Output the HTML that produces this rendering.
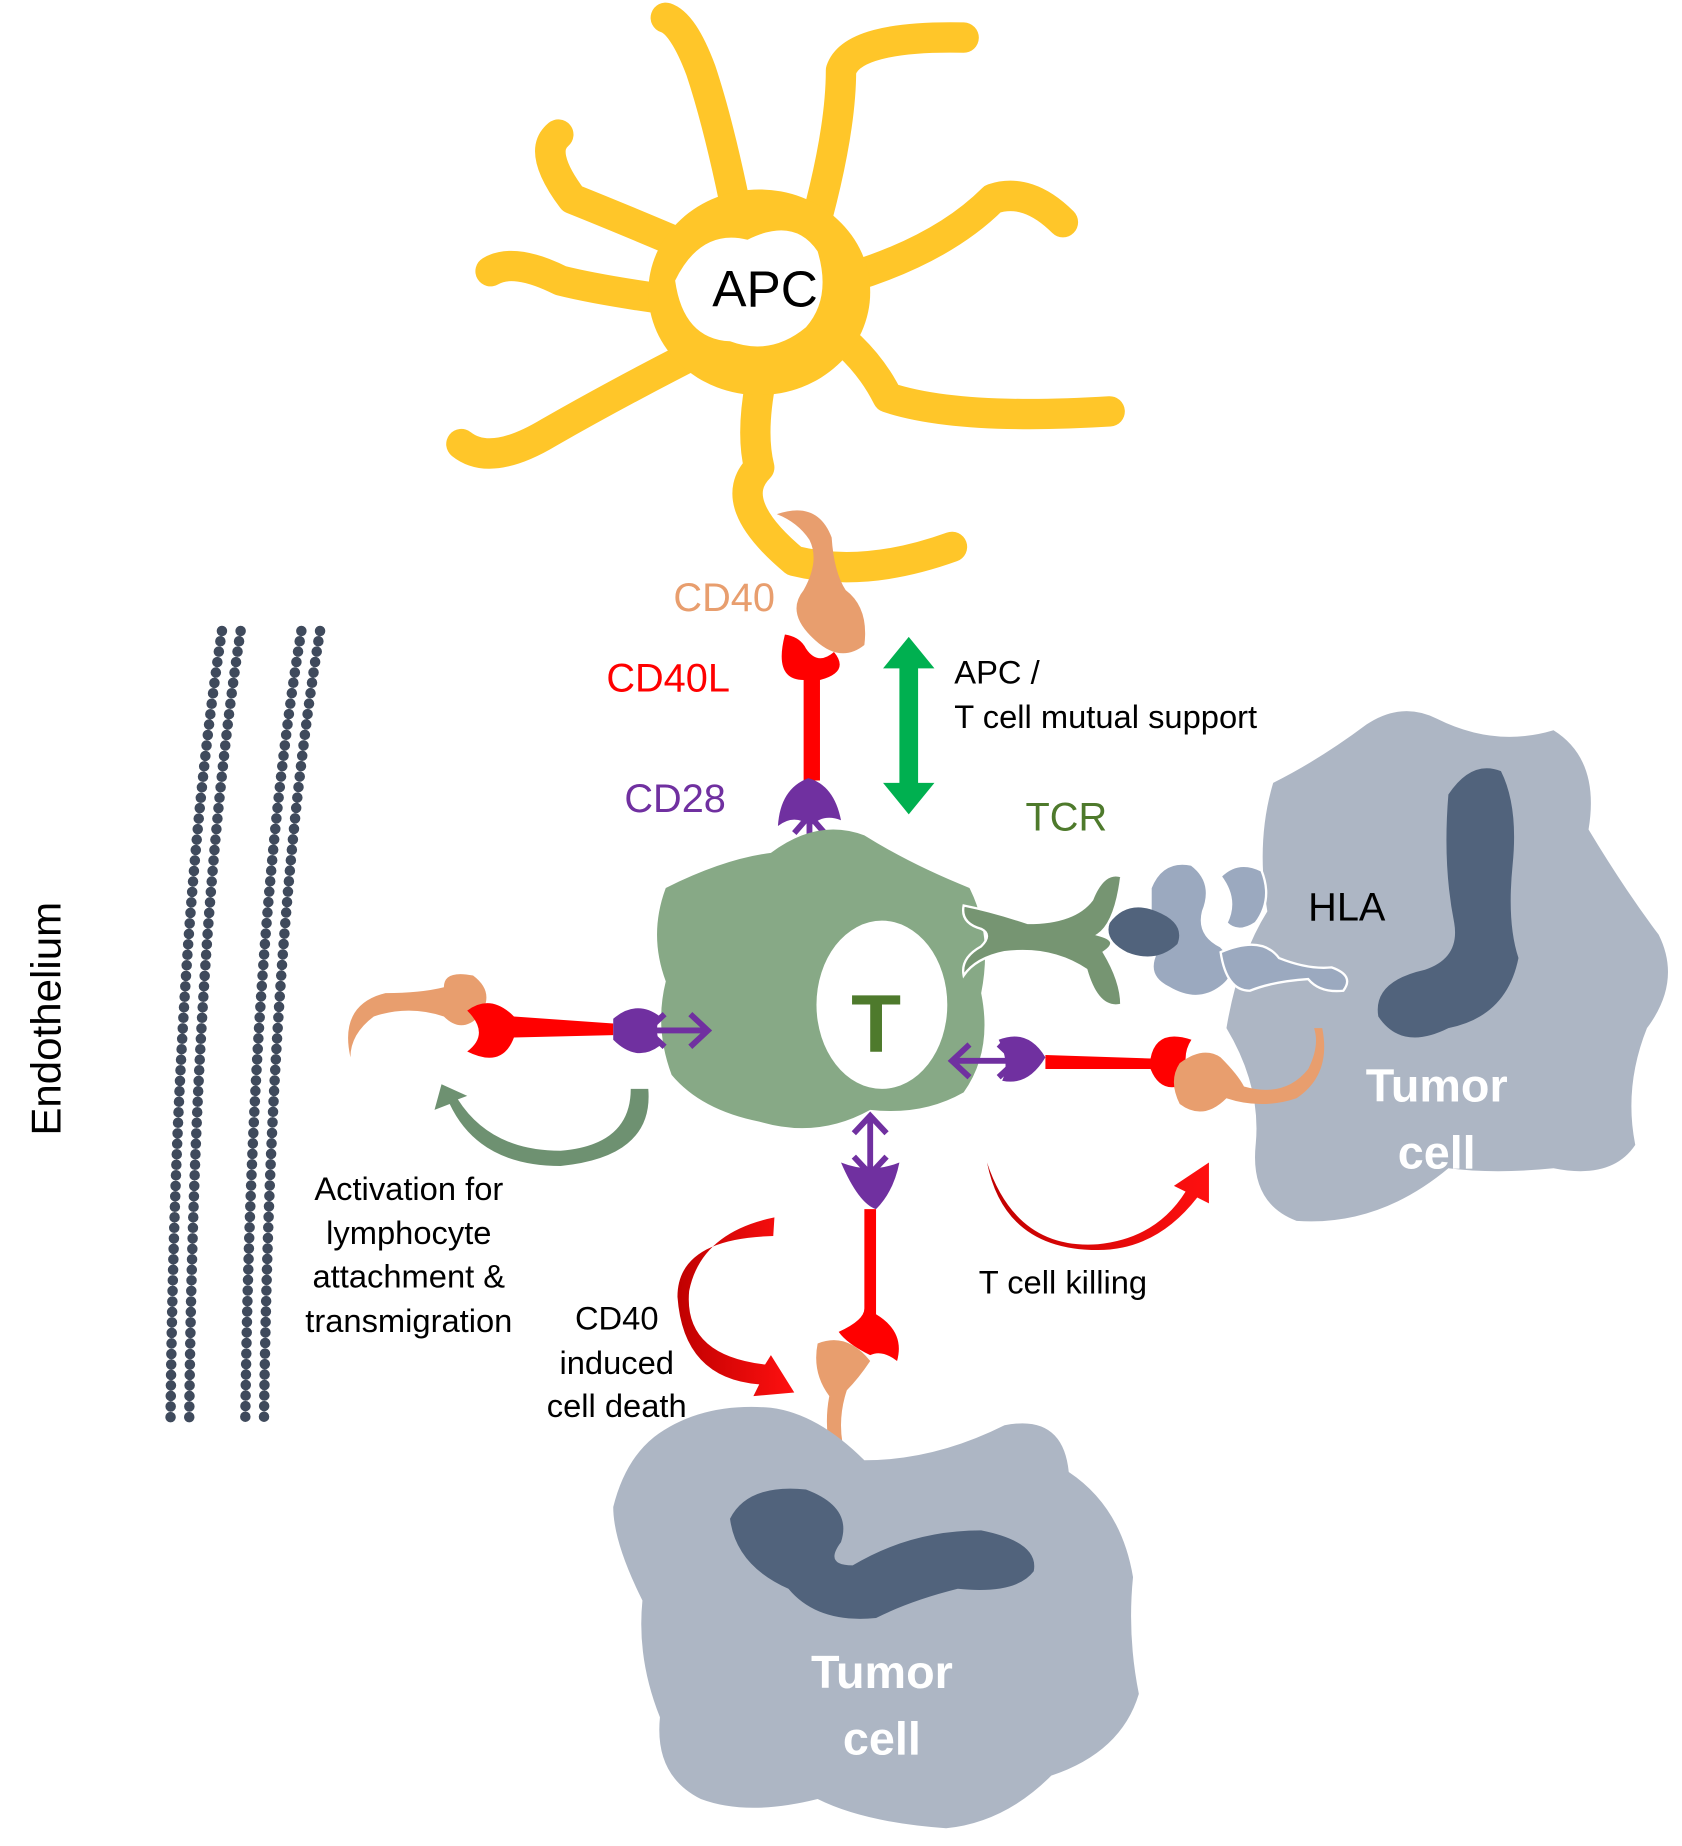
<!DOCTYPE html>
<html><head><meta charset="utf-8"><style>
html,body{margin:0;padding:0;background:#fff;}
svg{display:block}
text{font-family:"Liberation Sans",Arial,sans-serif}
</style></head><body>
<svg width="1682" height="1846" viewBox="0 0 1440 1580" xmlns="http://www.w3.org/2000/svg">
<defs>
<linearGradient id="rg" x1="0" y1="0" x2="1" y2="0"><stop offset="0" stop-color="#C00000"/><stop offset="1" stop-color="#FF1010"/></linearGradient>
</defs>
<!-- Endothelium membranes -->
<g fill="none" stroke="#3F4A5C" stroke-linecap="round">
<path d="M190 540 Q150 800 146 1215" stroke-width="9" stroke-dasharray="0 9"/>
<path d="M206 540 Q166 800 162 1215" stroke-width="9" stroke-dasharray="0 9"/>
<path d="M258 540 Q215 800 210 1215" stroke-width="9" stroke-dasharray="0 9"/>
<path d="M274 540 Q231 800 226 1215" stroke-width="9" stroke-dasharray="0 9"/>
</g>
<text x="52" y="872" font-size="36" transform="rotate(-90 52 872)" text-anchor="middle">Endothelium</text>

<!-- APC -->
<g fill="none" stroke="#FFC629" stroke-width="26" stroke-linecap="round" stroke-linejoin="round">
<path d="M640 230 Q620 120 600 60 Q585 20 570 15"/>
<path d="M690 220 Q720 120 720 60 Q730 30 825 32"/>
<path d="M700 245 Q800 220 850 170 Q880 160 910 190"/>
<path d="M700 275 Q740 300 760 340 Q820 360 950 352"/>
<path d="M660 290 Q640 360 650 400 Q620 430 680 480 Q740 495 815 468"/>
<path d="M620 290 Q540 330 470 370 Q420 400 395 380"/>
<path d="M600 260 Q520 250 480 240 Q440 220 420 232"/>
<path d="M610 220 Q540 190 490 170 Q460 130 478 115"/>
</g>
<ellipse cx="650" cy="250" rx="95" ry="88" fill="#FFC629"/>
<path d="M578 240 Q600 195 640 205 Q680 185 700 215 Q712 255 690 280 Q660 305 625 292 Q585 290 578 240Z" fill="#fff"/>
<text x="655" y="262" font-size="44" text-anchor="middle">APC</text>

<!-- CD40 top -->
<path d="M665 440 Q700 428 712 460 Q714 490 724 505 Q744 520 740 552 Q720 568 698 548 Q672 525 688 505 Q702 480 693 462 Q683 447 665 440Z" fill="#E89E6E"/>
<text x="620" y="523" font-size="34" fill="#E89E6E" text-anchor="middle">CD40</text>
<!-- CD40L top -->
<path d="M672 543 Q662 582 688 582 L688 668 L702 668 L702 582 Q728 575 714 558 Q700 570 690 555 Q685 545 672 543Z" fill="#FF0000"/>
<text x="572" y="592" font-size="34" fill="#FF0000" text-anchor="middle">CD40L</text>
<!-- CD28 top -->
<path d="M666 707 Q668 675 692 666 Q714 672 720 702 Q705 696 694 707 Q680 696 666 707Z" fill="#7030A0"/>
<g stroke="#7030A0" stroke-width="5" fill="none"><path d="M693 698 V742 M680 728 L693 743 L706 728 M680 713 L693 698 L706 713"/></g>
<text x="578" y="695" font-size="34" fill="#7030A0" text-anchor="middle">CD28</text>

<!-- green double arrow -->
<path d="M778 545 L800 572 L786 572 L786 670 L800 670 L778 697 L756 670 L770 670 L770 572 L756 572Z" fill="#00B050"/>
<text x="817" y="585" font-size="28">APC /</text>
<text x="817" y="623" font-size="28">T cell mutual support</text>
<text x="878" y="711" font-size="34" fill="#4E7A2C">TCR</text>

<!-- Right tumor cell -->
<path d="M1090 670 Q1130 650 1170 620 Q1200 600 1230 615 Q1280 640 1330 625 Q1370 650 1360 710 Q1390 760 1420 800 Q1440 840 1410 880 Q1390 930 1400 980 Q1380 1010 1330 1000 Q1280 1005 1240 1000 Q1180 1050 1110 1045 Q1070 1030 1075 980 Q1080 930 1050 880 Q1060 820 1085 780 Q1075 720 1090 670Z" fill="#ADB6C4"/>
<path d="M1240 680 Q1260 650 1285 660 Q1300 690 1295 740 Q1290 790 1300 820 Q1290 870 1240 880 Q1200 900 1180 870 Q1175 840 1220 830 Q1250 820 1245 790 Q1235 740 1240 680Z" fill="#51637C"/>
<text x="1230" y="943" font-size="40" font-weight="bold" fill="#fff" text-anchor="middle">Tumor</text>
<text x="1230" y="1000" font-size="40" font-weight="bold" fill="#fff" text-anchor="middle">cell</text>
<text x="1153" y="788" font-size="34" text-anchor="middle">HLA</text>

<!-- HLA -->
<path d="M985 760 Q995 735 1020 740 Q1040 755 1030 780 Q1025 800 1045 810 Q1065 830 1045 845 Q1025 860 1000 845 Q980 835 990 815 Q1000 795 985 780Z" fill="#9BA9BF" stroke="#fff" stroke-width="2"/>
<path d="M1045 750 Q1060 735 1080 745 Q1090 770 1075 790 Q1060 800 1050 790 Q1060 770 1045 750Z" fill="#9BA9BF" stroke="#fff" stroke-width="2"/>
<path d="M1045 815 Q1080 800 1095 820 Q1120 830 1140 828 Q1160 835 1150 848 Q1130 850 1120 838 Q1090 840 1070 848 Q1050 848 1045 815Z" fill="#9BA9BF" stroke="#fff" stroke-width="2"/>
<path d="M950 790 Q965 770 990 780 Q1015 790 1008 808 Q990 825 965 815 Q945 805 950 790Z" fill="#51637C"/>

<!-- T cell -->
<path d="M570 760 Q620 735 660 730 Q700 700 740 715 Q780 740 830 760 Q850 800 840 850 Q850 900 825 935 Q790 955 745 950 Q700 975 650 960 Q600 950 575 920 Q560 880 570 840 Q555 800 570 760Z" fill="#87A986"/>
<ellipse cx="755" cy="860" rx="56" ry="72" fill="#fff"/>
<text x="750" y="900" font-size="70" font-weight="bold" fill="#4E7A2C" text-anchor="middle">T</text>

<!-- TCR -->
<path d="M825 775 Q850 780 880 790 Q920 790 935 770 Q945 745 960 750 Q955 790 940 800 Q960 805 945 815 Q960 840 960 860 Q940 865 930 830 Q900 810 860 815 Q835 820 825 835 Q822 820 840 810 Q850 800 840 795 Q822 790 825 775Z" fill="#769572" stroke="#fff" stroke-width="2"/>

<!-- Left interaction -->
<path d="M300 905 Q290 860 330 850 Q360 850 380 845 Q380 830 405 835 Q425 850 410 870 Q395 885 380 870 Q350 860 320 870 Q300 885 300 905Z" fill="#E89E6E"/>
<path d="M400 865 Q420 850 440 870 L525 876 L525 886 L440 888 Q430 915 400 900 Q420 885 400 865Z" fill="#FF0000"/>
<path d="M525 872 Q545 855 565 870 Q560 880 565 895 Q545 910 525 890Z" fill="#7030A0"/>
<g stroke="#7030A0" stroke-width="5" fill="none"><path d="M553 882 H607 M591 868 L606 882 L591 896 M569 868 L554 882 L569 896"/></g>
<path d="M555 932 Q560 990 480 998 Q410 998 385 945 L372 950 L378 928 L400 938 L392 941 Q420 985 480 985 Q540 980 540 932Z" fill="#6E9171"/>

<!-- Right interaction -->
<g stroke="#7030A0" stroke-width="5" fill="none"><path d="M814 908 H871 M830 894 L815 908 L830 922 M855 894 L870 908 L855 922"/></g>
<path d="M855 890 Q880 880 895 905 Q880 930 858 925 Q865 910 855 890Z" fill="#7030A0"/>
<path d="M895 903 L985 906 Q990 880 1020 890 Q1010 905 1020 925 Q995 940 985 915 L895 915Z" fill="#FF0000"/>
<path d="M1010 910 Q1030 895 1045 905 Q1060 920 1065 930 Q1100 940 1120 915 Q1130 895 1125 880 L1132 880 Q1140 920 1110 940 Q1080 950 1050 940 Q1030 960 1010 945 Q1000 925 1010 910Z" fill="#E89E6E"/>
<path d="M845 995 Q870 1070 940 1065 Q990 1060 1015 1020 L1005 1015 L1035 995 L1035 1030 L1025 1025 Q990 1070 940 1070 Q860 1070 845 995Z" fill="url(#rg)"/>
<text x="910" y="1107" font-size="28" text-anchor="middle">T cell killing</text>

<!-- Bottom interaction -->
<g stroke="#7030A0" stroke-width="5" fill="none"><path d="M745 954 V1006 M731 970 L745 955 L759 970 M731 990 L745 1005 L759 990"/></g>
<path d="M720 995 Q745 1005 770 995 Q765 1020 750 1035 Q735 1030 720 995Z" fill="#7030A0"/>
<path d="M740 1035 L750 1035 L750 1125 Q775 1140 768 1165 Q755 1155 745 1160 Q725 1150 718 1140 Q740 1130 740 1120Z" fill="#FF0000"/>
<path d="M700 1150 Q725 1140 745 1165 Q735 1180 725 1190 Q715 1220 725 1250 Q745 1262 775 1265 L772 1272 Q730 1270 712 1250 Q705 1220 710 1195 Q695 1175 700 1150Z" fill="#E89E6E"/>
<path d="M663 1042 Q600 1055 590 1105 Q585 1160 655 1168 L660 1160 L680 1192 L645 1195 L650 1185 Q585 1180 580 1110 Q580 1060 662 1058Z" fill="url(#rg)"/>

<!-- Bottom tumor cell -->
<path d="M560 1230 Q600 1200 660 1205 Q700 1210 740 1250 Q800 1250 860 1220 Q910 1210 915 1260 Q960 1290 970 1350 Q965 1400 975 1450 Q960 1500 900 1520 Q860 1560 810 1565 Q740 1560 700 1540 Q640 1555 600 1540 Q560 1520 565 1470 Q545 1420 550 1370 Q525 1320 525 1290 Q535 1250 560 1230Z" fill="#ADB6C4"/>
<path d="M625 1300 Q640 1270 690 1275 Q730 1290 720 1320 Q705 1340 730 1340 Q780 1310 840 1310 Q890 1320 885 1345 Q870 1365 820 1360 Q780 1370 750 1385 Q700 1390 675 1360 Q630 1340 625 1300Z" fill="#51637C"/>
<text x="755" y="1445" font-size="40" font-weight="bold" fill="#fff" text-anchor="middle">Tumor</text>
<text x="755" y="1502" font-size="40" font-weight="bold" fill="#fff" text-anchor="middle">cell</text>

<!-- labels -->
<g font-size="28" text-anchor="middle">
<text x="350" y="1027">Activation for</text>
<text x="350" y="1065">lymphocyte</text>
<text x="350" y="1102">attachment &amp;</text>
<text x="350" y="1140">transmigration</text>
<text x="528" y="1138">CD40</text>
<text x="528" y="1176">induced</text>
<text x="528" y="1213">cell death</text>
</g>
</svg>
</body></html>
